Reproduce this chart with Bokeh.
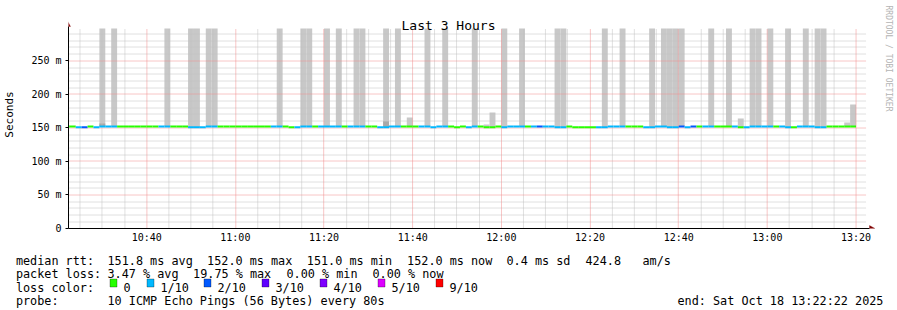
import math
from bokeh.plotting import figure
from bokeh.layouts import column
from bokeh.models import Range1d, FixedTicker, Label, PolyAnnotation, ColumnDataSource
from bokeh.embed import file_html
from bokeh.resources import INLINE

# ---------------- data (one entry per 80 s step, first step partly before the window) -------------
# lost pings out of 10 per step
loss = [0,
        0, 1, 2, 0, 1, 1, 1, 1, 0, 0,
        0, 0, 0, 0, 0, 1, 1, 0, 0, 0,
        1, 1, 1, 1, 1, 0, 0, 0, 0, 0,
        0, 0, 0, 0, 1, 1, 0, 0, 1, 1,
        1, 0, 1, 1, 1, 1, 0, 1, 1, 1,
        0, 0, 1, 1, 1, 1, 0, 0, 0, 1,
        1, 1, 1, 1, 0, 0, 0, 1, 1, 0,
        0, 0, 0, 1, 1, 1, 1, 0, 1, 2,
        1, 1, 1, 1, 0, 0, 0, 0, 0, 1,
        1, 1, 1, 1, 0, 0, 0, 1, 1, 1,
        1, 1, 1, 2, 1, 2, 0, 1, 1, 0,
        0, 0, 1, 0, 1, 1, 1, 1, 1, 0,
        1, 1, 0, 1, 1, 1, 1, 1, 0, 0,
        0, 0, 0]

# median rtt per step (ms)
median_ms = [152.0,
             152.0, 151.0, 151.0, 152.0, 151.0, 152.0, 152.0, 152.0, 152.0, 152.0,
             152.0, 152.0, 152.0, 152.0, 152.0, 152.0, 152.0, 152.0, 152.0, 152.0,
             151.0, 151.0, 151.0, 152.0, 152.0, 152.0, 152.0, 152.0, 152.0, 152.0,
             152.0, 152.0, 152.0, 152.0, 152.0, 152.0, 152.0, 151.0, 151.0, 152.0,
             152.0, 152.0, 152.0, 152.0, 152.0, 152.0, 152.0, 152.0, 152.0, 152.0,
             152.0, 152.0, 151.0, 151.0, 152.0, 152.0, 152.0, 152.0, 152.0, 152.0,
             152.0, 151.0, 152.0, 152.0, 152.0, 151.0, 152.0, 151.0, 152.0, 152.0,
             151.0, 151.0, 152.0, 151.0, 152.0, 152.0, 152.0, 152.0, 152.0, 152.0,
             152.0, 152.0, 151.0, 151.0, 152.0, 151.0, 151.0, 151.0, 151.0, 151.0,
             151.0, 152.0, 152.0, 152.0, 152.0, 152.0, 152.0, 151.0, 151.0, 152.0,
             152.0, 151.0, 151.0, 152.0, 151.0, 152.0, 152.0, 152.0, 152.0, 152.0,
             152.0, 152.0, 152.0, 151.0, 151.0, 152.0, 152.0, 152.0, 152.0, 152.0,
             152.0, 151.0, 151.0, 152.0, 152.0, 152.0, 151.0, 151.0, 152.0, 152.0,
             152.0, 152.0, 152.0]

# highest ping per step (ms) -> smoke; None = no smoke visible; T = off the top of the graph
Y_MAX = 298.2
T = Y_MAX
smoke_max = [None,
             None, None, None, None, None, T, None, T, None, None,
             None, None, None, None, None, None, T, None, None, None,
             T, T, None, T, T, None, None, None, None, None,
             None, None, None, None, None, T, None, None, None, T,
             T, None, None, T, None, T, None, None, T, T,
             None, None, None, T, None, T, None, 165.5, None, None,
             T, None, None, T, None, None, None, None, T, None,
             155.0, 173.0, None, T, None, None, T, None, None, None,
             None, None, T, T, None, None, None, None, None, None,
             T, None, None, T, None, None, None, None, T, None,
             T, T, T, T, None, None, None, None, T, None,
             None, T, None, 164.0, None, T, T, None, T, None,
             None, T, None, None, T, None, T, T, None, None,
             None, 158.0, 185.0]

# denser smoke near the median (step index -> ms)
dense_max = {6: 156.5, 54: 160.0}

loss_colors = {0: "#26ff00", 1: "#00b8ff", 2: "#0059ff", 3: "#5e00ff",
               4: "#7e00ff", 5: "#dd00ff", 9: "#ff0000"}
loss_labels = ["0", "1/10", "2/10", "3/10", "4/10", "5/10", "9/10"]
legend_loss_keys = [0, 1, 2, 3, 4, 5, 9]

x_major = [40, 60, 80, 100, 120, 140, 160, 180, 200]        # minutes after 10:00
x_major_labels = ["10:40", "11:00", "11:20", "11:40", "12:00", "12:20", "12:40", "13:00", "13:20"]
y_major = [0, 50, 100, 150, 200, 250]
y_major_labels = ["0", "50 m", "100 m", "150 m", "200 m", "250 m"]

stats_rtt = ["median rtt:", "151.8 ms avg", "152.0 ms max", "151.0 ms min",
             "152.0 ms now", "0.4 ms sd", "424.8", "am/s"]
stats_loss = ["packet loss:", "3.47 % avg", "19.75 % max", "0.00 % min", "0.00 % now"]
probe_text = ["probe:", "10 ICMP Echo Pings (56 Bytes) every 80s"]
end_text = "end: Sat Oct 18 13:22:22 2025"
title_text = "Last 3 Hours"
watermark = "RRDTOOL / TOBI OETIKER"

# ---------------- geometry ---------------------------------------------------
STEP = 80.0 / 60.0              # minutes per step
LAST_END = 200.0                # last step ends 13:20
WIN_START = 22 + 22 / 60.0      # 10:22:22
WIN_END = 202 + 22 / 60.0       # 13:22:22
n = len(loss)
t1 = [LAST_END - (n - 1 - i) * STEP for i in range(n)]
t0 = [t - STEP for t in t1]

LEFT = 67            # canvas x of the y axis
DATA_W = 799         # px of the 3 hour window
DATA_H = 200         # px of 0..Y_MAX
AXIS_Y = 228         # canvas y of the x axis
MAIN_H = 245
W = 897
PX_MIN = DATA_W / (WIN_END - WIN_START)
PX_MS = DATA_H / Y_MAX
x_end = WIN_START + (W - LEFT) / PX_MIN
y_end = AXIS_Y / PX_MS


def snap_x(v):   # put a 1px grid line on a pixel centre
    px = LEFT + (v - WIN_START) * PX_MIN
    return WIN_START + (math.floor(px) + 0.5 - LEFT) / PX_MIN


def snap_y(v):
    py = AXIS_Y - v * PX_MS
    return (AXIS_Y - (math.floor(py) + 0.5)) / PX_MS


FONT = "DejaVu Sans Mono"

p = figure(width=W, height=MAIN_H, output_backend="svg", toolbar_location=None, title=None,
           x_range=Range1d(WIN_START, x_end), y_range=Range1d(0, y_end),
           min_border_left=LEFT, min_border_right=0, min_border_top=0,
           min_border_bottom=MAIN_H - AXIS_Y)
p.background_fill_color = "white"
p.border_fill_color = "white"
p.outline_line_color = None
p.grid.visible = False
p.frame_align = False

# smoke
sm = [(t0[i], t1[i], median_ms[i], smoke_max[i]) for i in range(n) if smoke_max[i] is not None]
smoke_src = ColumnDataSource(dict(left=[a[0] for a in sm], right=[a[1] for a in sm],
                                  bottom=[a[2] for a in sm], top=[a[3] for a in sm]))
p.quad(left="left", right="right", bottom="bottom", top="top", source=smoke_src,
       fill_color="#c8c8c8", line_color=None)
dk = sorted(dense_max)
dense_src = ColumnDataSource(dict(left=[t0[i] for i in dk], right=[t1[i] for i in dk],
                                  bottom=[median_ms[i] for i in dk], top=[dense_max[i] for i in dk]))
p.quad(left="left", right="right", bottom="bottom", top="top", source=dense_src,
       fill_color="#a8a8a8", line_color=None)

# grid (dotted, limited to the graph area)
x_minor = [snap_x(m) for m in range(25, 205, 5) if m not in x_major and WIN_START < m < WIN_END]
y_minor = [snap_y(v) for v in range(10, 300, 10) if v not in y_major and v < Y_MAX]
x_maj = [snap_x(m) for m in x_major]
y_maj = [snap_y(v) for v in y_major if v > 0]
MINOR = "#c0c0c0"
MAJOR = "#f08c8c"
p.segment(x0=x_minor, x1=x_minor, y0=[0] * len(x_minor), y1=[Y_MAX] * len(x_minor),
          line_color=MINOR, line_dash="1 1", line_width=1)
p.segment(x0=[WIN_START] * len(y_minor), x1=[WIN_END] * len(y_minor), y0=y_minor, y1=y_minor,
          line_color=MINOR, line_dash="1 1", line_width=1)
p.segment(x0=x_maj, x1=x_maj, y0=[0] * len(x_maj), y1=[Y_MAX] * len(x_maj),
          line_color=MAJOR, line_dash="1 1", line_width=1)
p.segment(x0=[WIN_START] * len(y_maj), x1=[WIN_END] * len(y_maj), y0=y_maj, y1=y_maj,
          line_color=MAJOR, line_dash="1 1", line_width=1)

# median line coloured by loss
med_src = ColumnDataSource(dict(x0=t0, x1=t1, y=median_ms,
                                color=[loss_colors[l] for l in loss]))
p.segment(x0="x0", y0="y", x1="x1", y1="y", source=med_src, line_color="color",
          line_width=2, line_cap="butt")

# axes
p.xaxis.ticker = FixedTicker(ticks=x_major, minor_ticks=[])
p.xaxis.major_label_overrides = {k: v for k, v in zip(x_major, x_major_labels)}
p.yaxis.ticker = FixedTicker(ticks=y_major, minor_ticks=[])
p.yaxis.major_label_overrides = {k: v for k, v in zip(y_major, y_major_labels)}
p.xaxis.bounds = (WIN_START, WIN_START + (869 - LEFT) / PX_MIN)
p.yaxis.bounds = (0, (AXIS_Y - 26) / PX_MS)

for ax in (p.xaxis[0], p.yaxis[0]):
    ax.axis_line_color = "black"
    ax.major_label_text_font = FONT
    ax.major_label_text_font_size = "10px"
    ax.major_label_text_color = "black"
    ax.minor_tick_out = 0
    ax.minor_tick_in = 0
    ax.major_tick_in = 0
p.xaxis.major_tick_out = 0
p.xaxis.major_label_standoff = 3
p.yaxis.major_tick_out = 3
p.yaxis.major_tick_line_color = "black"
p.yaxis.major_label_standoff = 4
p.yaxis.axis_label = "Seconds"
p.yaxis.axis_label_text_font = FONT
p.yaxis.axis_label_text_font_size = "11px"
p.yaxis.axis_label_text_font_style = "normal"
p.yaxis.axis_label_text_color = "black"
p.yaxis.axis_label_standoff = 12

# arrow heads at axis ends
ARROW = "#800000"
p.add_layout(PolyAnnotation(xs=[64, 70, 67], ys=[26, 26, 20.5], xs_units="canvas", ys_units="canvas",
                            fill_color=ARROW, line_color=ARROW, fill_alpha=1))
p.add_layout(PolyAnnotation(xs=[869, 869, 874.5], ys=[225, 231, 228], xs_units="canvas", ys_units="canvas",
                            fill_color=ARROW, line_color=ARROW, fill_alpha=1))


def lab(fig, x, y, text, size="11.8px", align="left", baseline="alphabetic", color="black", angle=0.0):
    fig.add_layout(Label(x=x, y=y, x_units="canvas", y_units="canvas", text=text,
                         text_font=FONT, text_font_size=size, text_align=align,
                         text_baseline=baseline, text_color=color, angle=angle))


lab(p, 448, 25, title_text, size="13px", align="center")
lab(p, 888, 5, watermark, size="8px", baseline="middle", color="#b4b4b4", angle=-math.pi / 2)

# ---------------- legend strip ----------------------------------------------
TXT_H = 310 - MAIN_H
q = figure(width=W, height=TXT_H, output_backend="svg", toolbar_location=None, title=None,
           x_range=Range1d(0, W), y_range=Range1d(TXT_H, 0),
           x_axis_location=None, y_axis_location=None,
           min_border_left=0, min_border_right=0, min_border_top=0, min_border_bottom=0)
q.background_fill_color = "white"
q.border_fill_color = "white"
q.outline_line_color = None
q.grid.visible = False
q.frame_align = False

o = MAIN_H
rtt_x = [15.4, 107.0, 206.6, 306.3, 406.6, 506.0, 585.0, 642.0]
for x, t in zip(rtt_x, stats_rtt):
    lab(q, x, 260 - o, t)
loss_x = [15.4, 107.0, 192.6, 286.0, 372.0]
for x, t in zip(loss_x, stats_loss):
    lab(q, x, 273.5 - o, t)
lab(q, 15.4, 287 - o, "loss color:")
box_x = [109, 146, 203, 261, 319, 377, 435]
for bx, key, t in zip(box_x, legend_loss_keys, loss_labels):
    q.add_layout(PolyAnnotation(xs=[bx + 0.5, bx + 7.5, bx + 7.5, bx + 0.5],
                                ys=[278.5 - o, 278.5 - o, 286.5 - o, 286.5 - o],
                                xs_units="canvas", ys_units="canvas", fill_color=loss_colors[key],
                                fill_alpha=1, line_color="black", line_width=1))
    lab(q, bx + 14, 287 - o, t)
lab(q, 15.4, 300.5 - o, probe_text[0])
lab(q, 107.0, 300.5 - o, probe_text[1])
lab(q, 677.0, 300.5 - o, end_text)

open("out.html", "w").write(file_html(column(p, q, spacing=0), INLINE))
